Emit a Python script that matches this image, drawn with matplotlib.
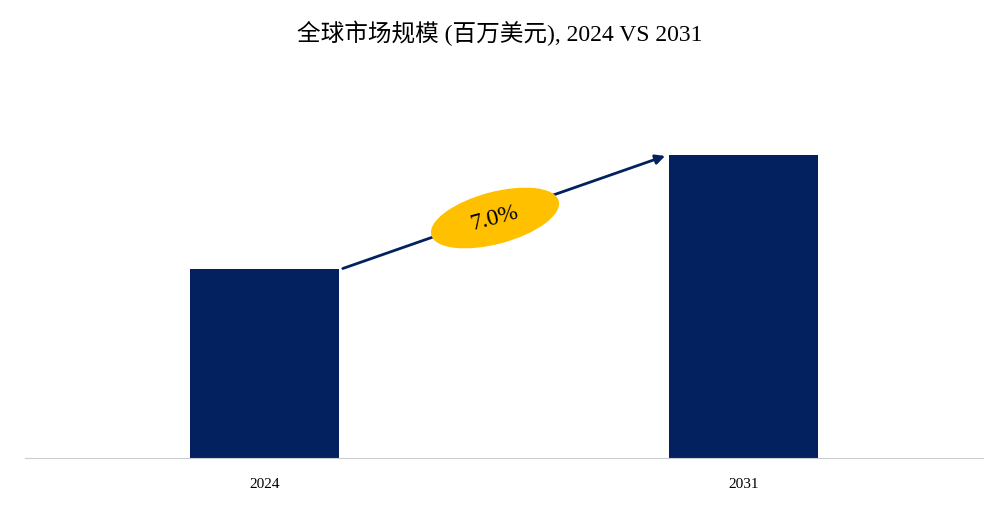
import matplotlib
matplotlib.use("Agg")
import matplotlib.pyplot as plt
from matplotlib.patches import Ellipse
from matplotlib.transforms import IdentityTransform

categories = ["2024", "2031"]
values = [100.0, 160.6]
cagr_label = "7.0%"

fig = plt.figure(figsize=(10, 5.08), dpi=100)
ax = fig.add_axes([0.025, 0.098, 0.958, 0.705])
x = list(range(len(categories)))
ax.bar(x, values, width=0.313, color="#03215F")
ax.set_xlim(-0.5, 1.5)
ax.set_ylim(0, 189.7)
ax.set_xticks(x)
ax.set_xticklabels(categories, fontfamily="Liberation Serif", fontsize=11)
ax.tick_params(axis="x", length=0, pad=14)
ax.set_yticks([])
for s in ["top", "left", "right"]:
    ax.spines[s].set_visible(False)
ax.spines["bottom"].set_color("#cccccc")

ax.annotate("", xy=(0.842, values[1]), xytext=(0.158, values[0]),
            arrowprops=dict(arrowstyle="-|>", color="#03215F", lw=2, mutation_scale=14))

ell = Ellipse((495, 290), 132, 52, angle=15, facecolor="#FFC000", edgecolor="none",
              transform=IdentityTransform(), zorder=5)
fig.patches.append(ell)
fig.text(495/1000, 290/508, cagr_label, ha="center", va="center", rotation=15,
         fontfamily="Liberation Serif", fontsize=17, zorder=6)

fig.text(0.5, 0.935, "全球市场规模 (百万美元), 2024 VS 2031", ha="center", va="center",
         fontfamily=["Liberation Serif", "Noto Sans CJK SC"], fontsize=17)

fig.savefig("out.png", dpi=100)
